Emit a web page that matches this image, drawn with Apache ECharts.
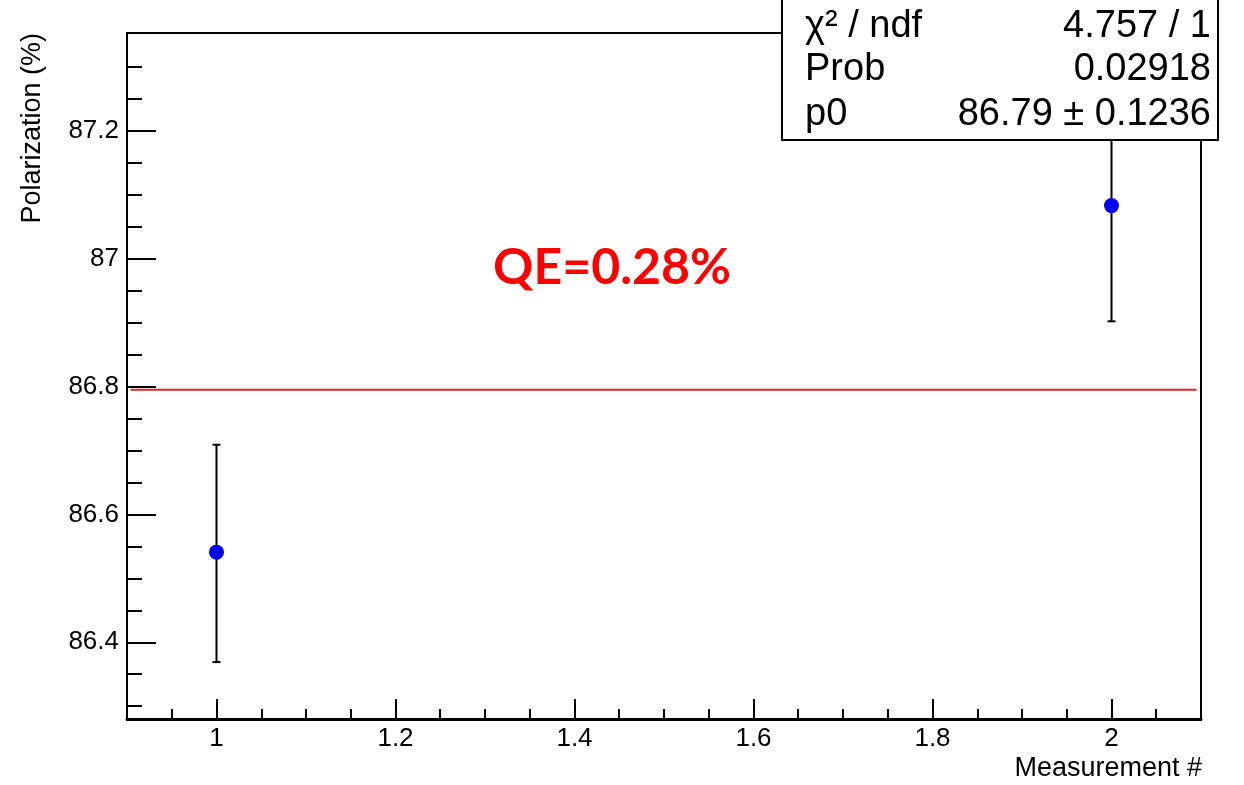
<!DOCTYPE html>
<html>
<head>
<meta charset="utf-8">
<script src="https://cdn.jsdelivr.net/npm/echarts@6/dist/echarts.min.js"></script>
<style>
  html, body { margin: 0; padding: 0; background: #fff; }
  #chart { width: 1244px; height: 785px; }
</style>
</head>
<body>
<div id="chart"></div>
<script>
// measurements (x = measurement #, y = polarization %)
var measX = [1, 2];
var measY = [86.541, 87.083];
var errLow = [86.369, 86.902];
var errHigh = [86.709, 87.264];

// constant fit p0
var fitValue = 86.795;
var fitRange = [0.904, 2.095];

// ticks
var xMajor = [1, 1.2, 1.4, 1.6, 1.8, 2];
var xMinor = [0.95, 1.05, 1.1, 1.15, 1.25, 1.3, 1.35, 1.45, 1.5, 1.55, 1.65, 1.7, 1.75, 1.85, 1.9, 1.95, 2.05];
var yMajor = [86.4, 86.6, 86.8, 87, 87.2];
var yMinor = [86.3, 86.35, 86.45, 86.5, 86.55, 86.65, 86.7, 86.75, 86.85, 86.9, 86.95, 87.05, 87.1, 87.15, 87.25, 87.3];

// stats box rows
var statNames = ["\u03c7\u00b2 / ndf", "Prob", "p0"];
var statValues = ["4.757 / 1", "0.02918", "86.79 \u00b1 0.1236"];

var FONT = "'Liberation Sans', Arial, Helvetica, sans-serif";

var chart = echarts.init(document.getElementById("chart"));

var statsGraphics = [];
var rowY = [27, 70, 115];
for (var i = 0; i < statNames.length; i++) {
  statsGraphics.push({
    type: "text", z: 101, x: 805, y: rowY[i],
    style: { text: statNames[i], font: "38px " + FONT, fill: "#000", align: "left", verticalAlign: "middle" }
  });
  statsGraphics.push({
    type: "text", z: 101, x: 1211, y: rowY[i],
    style: { text: statValues[i], font: "38px " + FONT, fill: "#000", align: "right", verticalAlign: "middle" }
  });
}

var option = {
  animation: false,
  backgroundColor: "#fff",
  grid: {
    left: 127, right: 43, top: 33, bottom: 66,
    show: true, borderColor: "#000", borderWidth: 2, backgroundColor: "#fff"
  },
  xAxis: [
    {
      type: "value", min: 0.9, max: 2.1, position: "bottom",
      splitLine: { show: false },
      axisLine: { show: true, onZero: false, lineStyle: { color: "#000", width: 3 } },
      axisTick: { show: true, inside: true, length: 20, lineStyle: { color: "#000", width: 2 }, customValues: xMajor },
      axisLabel: { show: true, customValues: xMajor, color: "#000", fontSize: 26, fontFamily: FONT, margin: 7,
        formatter: function (v) { return String(+v.toFixed(2)); } }
    },
    {
      type: "value", min: 0.9, max: 2.1, position: "bottom",
      splitLine: { show: false },
      axisLine: { show: false, onZero: false },
      axisTick: { show: true, inside: true, length: 10, lineStyle: { color: "#000", width: 2 }, customValues: xMinor },
      axisLabel: { show: false }
    }
  ],
  yAxis: [
    {
      type: "value", min: 86.28, max: 87.353, position: "left",
      splitLine: { show: false },
      axisLine: { show: true, onZero: false, lineStyle: { color: "#000", width: 2 } },
      axisTick: { show: true, inside: true, length: 29, lineStyle: { color: "#000", width: 2 }, customValues: yMajor },
      axisLabel: { show: true, customValues: yMajor, color: "#000", fontSize: 26, fontFamily: FONT, margin: 8,
        formatter: function (v) { return String(+v.toFixed(2)); } }
    },
    {
      type: "value", min: 86.28, max: 87.353, position: "left",
      splitLine: { show: false },
      axisLine: { show: false, onZero: false },
      axisTick: { show: true, inside: true, length: 15, lineStyle: { color: "#000", width: 2 }, customValues: yMinor },
      axisLabel: { show: false }
    }
  ],
  graphic: [
    {
      type: "rect", z: 100,
      shape: { x: 782, y: -2, width: 436, height: 142 },
      style: { fill: "#fff", stroke: "#000", lineWidth: 2 }
    }
  ].concat(statsGraphics).concat([
    {
      type: "text", z: 101, x: 612, y: 268,
      style: { text: "QE=0.28%", font: "bold 50px Lato, 'Open Sans', sans-serif", fill: "#ff0000", align: "center", verticalAlign: "middle" }
    },
    {
      type: "text", z: 101, x: 1202, y: 769,
      style: { text: "Measurement #", font: "27px " + FONT, fill: "#000", align: "right", verticalAlign: "middle" }
    },
    {
      type: "text", z: 101, x: 33, y: 33, rotation: Math.PI / 2,
      style: { text: "Polarization (%)", font: "27px " + FONT, fill: "#000", align: "right", verticalAlign: "middle" }
    }
  ]),
  series: [
    {
      name: "fit",
      type: "line",
      xAxisIndex: 0, yAxisIndex: 0,
      data: [[fitRange[0], fitValue], [fitRange[1], fitValue]],
      symbol: "none",
      lineStyle: { color: "#d02a2a", width: 2 },
      z: 3
    },
    {
      name: "errors",
      type: "custom",
      xAxisIndex: 0, yAxisIndex: 0,
      data: measX.map(function (x, i) { return [x, errLow[i], errHigh[i]]; }),
      renderItem: function (params, api) {
        var lo = api.coord([api.value(0), api.value(1)]);
        var hi = api.coord([api.value(0), api.value(2)]);
        var cap = 4;
        var st = { stroke: "#000", lineWidth: 2 };
        return {
          type: "group",
          children: [
            { type: "line", shape: { x1: lo[0], y1: lo[1], x2: hi[0], y2: hi[1] }, style: st },
            { type: "line", shape: { x1: lo[0] - cap, y1: lo[1], x2: lo[0] + cap, y2: lo[1] }, style: st },
            { type: "line", shape: { x1: hi[0] - cap, y1: hi[1], x2: hi[0] + cap, y2: hi[1] }, style: st }
          ]
        };
      },
      z: 4
    },
    {
      name: "Polarization",
      type: "scatter",
      xAxisIndex: 0, yAxisIndex: 0,
      data: measX.map(function (x, i) { return [x, measY[i]]; }),
      symbolSize: 15,
      itemStyle: { color: "#0000f0", opacity: 1 },
      z: 5
    }
  ]
};

chart.setOption(option);
window.addEventListener("resize", function () { chart.resize(); });
</script>
</body>
</html>
